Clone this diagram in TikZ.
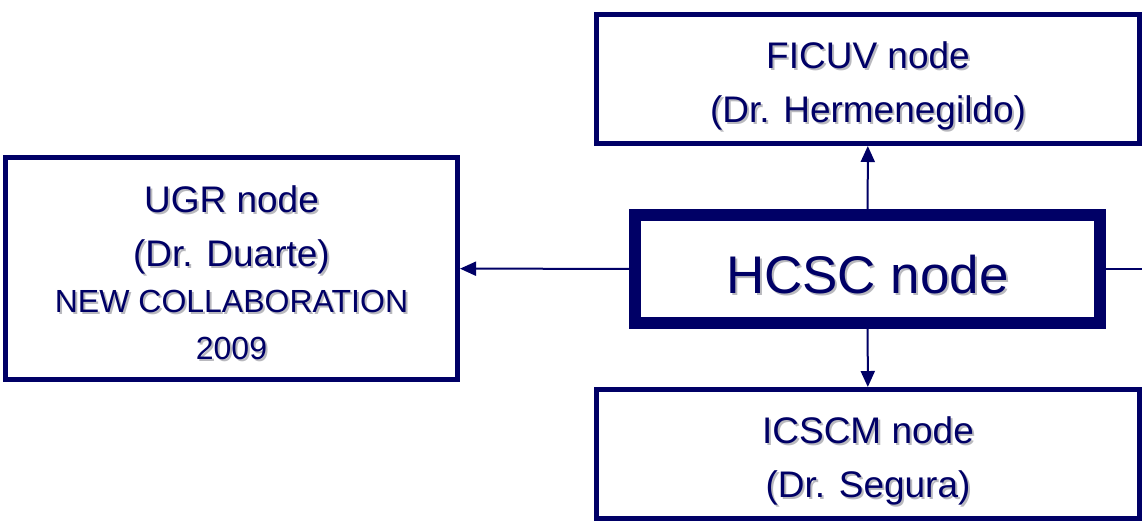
\documentclass[tikz,border=0pt]{standalone}
\usepackage{fontspec}
\setmainfont{Liberation Sans}
\usetikzlibrary{arrows.meta}

\definecolor{navy}{RGB}{0,0,102}
\definecolor{shadowgray}{RGB}{185,185,190}
\newcommand{\shtext}[1]{\leavevmode\rlap{\hspace{2pt}\raisebox{-2pt}{\textcolor{shadowgray}{#1}}}#1}
\newcommand{\toppad}[1]{\rule{0pt}{#1}}

\begin{document}
\begin{tikzpicture}[x=1pt, y=-1pt, thick,
    site/.style = {draw=navy, line width=5pt, fill=white, inner sep=0pt, text=navy, align=center},
    hub/.style = {draw=navy, line width=12pt, fill=white, inner sep=0pt, text=navy, align=center},
    link/.style = {draw=navy, line width=2pt, -{Triangle[length=16pt,width=14pt]}}]
	\useasboundingbox (0,0) rectangle (1142,525);
	\node[hub, minimum width=465pt, minimum height=108pt, font=\fontsize{53}{60}\selectfont] (hcsc) at (867.5,269) {\toppad{52pt}\shtext{HCSC node}};
	\node[site, minimum width=543pt, minimum height=129pt, font=\fontsize{37}{54}\selectfont] (ficuv) at (868,79) {\toppad{43pt}\shtext{FICUV node}\\ \shtext{(Dr. Hermenegildo)}};
	\node[site, minimum width=543pt, minimum height=129pt, font=\fontsize{37}{54}\selectfont] (icscm) at (868,454) {\toppad{43pt}\shtext{ICSCM node}\\ \shtext{(Dr. Segura)}};
	\node[site, minimum width=452pt, minimum height=222pt, font=\fontsize{37}{54}\selectfont] (ugr) at (231.5,268.5) {\toppad{38pt}\shtext{UGR node}\\ \shtext{(Dr. Duarte)}\\[-8pt] {\fontsize{32}{47}\selectfont\shtext{NEW COLLABORATION}}\\[-7pt] {\fontsize{32}{47}\selectfont\shtext{2009}}};
	\coordinate (out) at (1160,269);
	\draw[link] (hcsc) -- (ugr);
	\draw[link] (hcsc) -- (ficuv);
	\draw[link] (hcsc) -- (icscm);
	\draw[navy, line width=2pt] (hcsc) -- (out);
\end{tikzpicture}
\end{document}
